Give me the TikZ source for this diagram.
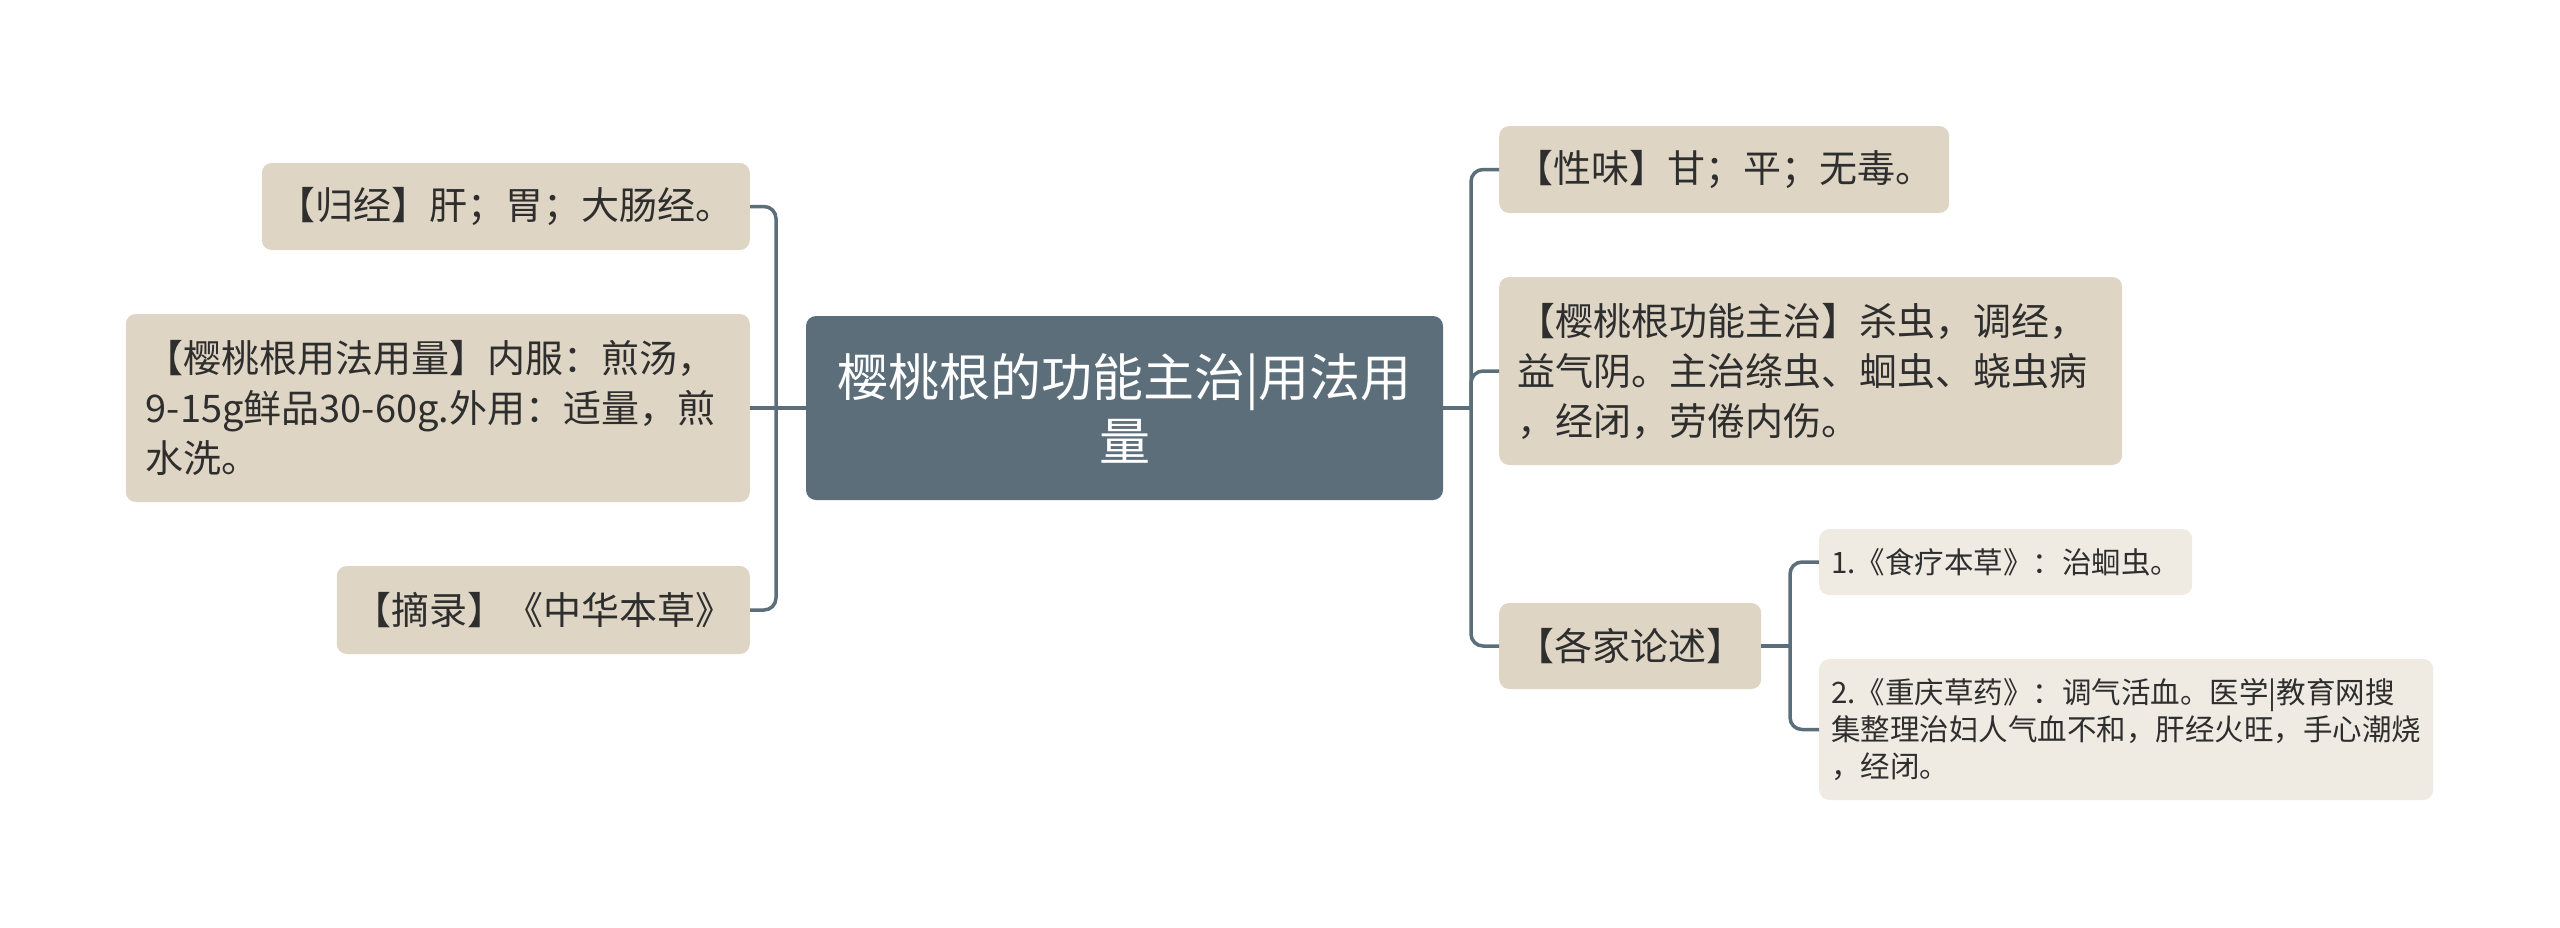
\documentclass[tikz,border=0pt]{standalone}
\usepackage{fontspec}
\newfontfamily\cjk{Noto Sans CJK SC}
\definecolor{rootfill}{HTML}{5B6E7A}
\definecolor{topicfill}{HTML}{DFD5C4}
\definecolor{subfill}{HTML}{EFEBE3}
\definecolor{inkcol}{HTML}{2E2E2E}
\tikzset{
    root/.style={fill=rootfill, rounded corners=10pt, text=white, align=center, inner sep=0pt,
        font=\cjk\fontsize{51}{64}\selectfont}, % 中心主题
    topic/.style={fill=topicfill, rounded corners=10pt, text=inkcol, align=left, inner sep=0pt,
        font=\cjk\fontsize{38}{50}\selectfont}, % 一级分支
    subtopic/.style={fill=subfill, rounded corners=10pt, text=inkcol, align=left, inner sep=0pt,
        font=\cjk\fontsize{29.5}{37}\selectfont}, % 二级分支
    link/.style={draw=rootfill, line width=3.5pt, rounded corners=12pt} % 连线
}
\begin{document}
\begin{tikzpicture}[x=1pt, y=-1pt]
    \useasboundingbox (0,0) rectangle (2560,927);

    \node[root, minimum width=637pt, minimum height=184pt] (root) at (1124.5,408) {樱桃根的功能主治|用法用\\量};

    % 左侧
    \node[topic, anchor=east, minimum width=488pt, minimum height=87pt] (guijing) at (750,206.5) {【归经】肝；胃；大肠经。};
    \node[topic, anchor=east, inner xsep=20pt, text width=584pt, minimum height=188pt] (yongfa) at (750,408)
        {【樱桃根用法用量】内服：煎汤，\\9-15g鲜品30-60g.外用：适量，煎\\水洗。};
    \node[topic, anchor=east, minimum width=413pt, minimum height=88pt] (zhailu) at (750,610) {【摘录】《中华本草》};

    % 右侧
    \node[topic, anchor=west, minimum width=450pt, minimum height=87pt] (xingwei) at (1499,169.5) {【性味】甘；平；无毒。};
    \node[topic, anchor=west, inner xsep=18pt, text width=587pt, minimum height=188pt] (gongneng) at (1499,371)
        {【樱桃根功能主治】杀虫，调经，\\益气阴。主治绦虫、蛔虫、蛲虫病\\，经闭，劳倦内伤。};
    \node[topic, anchor=west, minimum width=262pt, minimum height=86pt] (lunshu) at (1499,646) {【各家论述】};

    \node[subtopic, anchor=west, minimum width=373pt, minimum height=66pt] (shiliao) at (1819,562) {1.《食疗本草》：治蛔虫。};
    \node[subtopic, anchor=west, inner xsep=12pt, text width=590pt, minimum height=141pt] (chongqing) at (1819,729.5)
        {2.《重庆草药》：调气活血。医学|教育网搜\\集整理治妇人气血不和，肝经火旺，手心潮烧\\，经闭。};

    \coordinate (ljoin) at (776,408);
    \coordinate (rjoin) at (1471,408);
    \coordinate (sjoin) at (1790,646);

    \draw[link] (root.west) -- (yongfa.east);
    \draw[link] (ljoin) |- (guijing.east);
    \draw[link] (ljoin) |- (zhailu.east);

    \draw[link] (root.east) -- (rjoin);
    \draw[link] (rjoin) |- (xingwei.west);
    \draw[link] (rjoin) |- (gongneng.west);
    \draw[link] (rjoin) |- (lunshu.west);

    \draw[link] (lunshu.east) -- (sjoin);
    \draw[link] (sjoin) |- (shiliao.west);
    \draw[link] (sjoin) |- (chongqing.west);
\end{tikzpicture}
\end{document}
